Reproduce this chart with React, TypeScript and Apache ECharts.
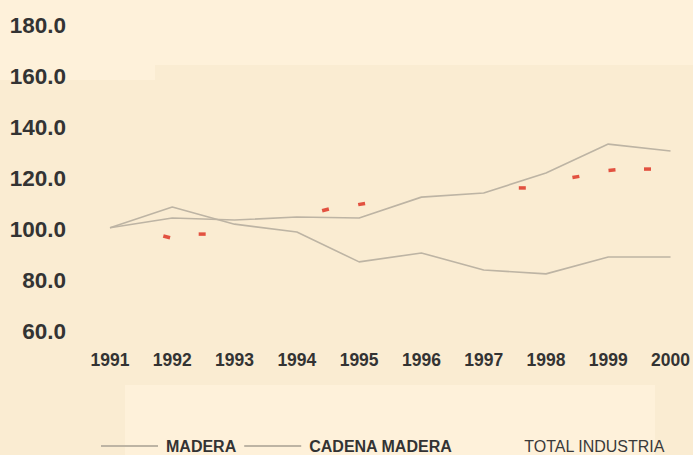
import React, { useEffect, useRef } from "react";
import * as echarts from "echarts";

const years = [1991, 1992, 1993, 1994, 1995, 1996, 1997, 1998, 1999, 2000];
const madera = [100.5, 108.6, 101.9, 98.8, 87.1, 90.6, 83.9, 82.4, 89.0, 89.0];
const cadenaMadera = [100.5, 104.3, 103.5, 104.7, 104.3, 112.5, 114.1, 122.0, 133.3, 130.6];
// visible (faded scan) dashes of the TOTAL INDUSTRIA series: [year position, value]
const industriaX = [1991.91, 1992.48, 1994.46, 1995.04, 1997.62, 1998.48, 1999.06, 1999.63];
const industriaY = [96.9, 98.0, 107.5, 109.8, 116.1, 120.4, 123.1, 123.5];
const industriaRot = [-15, 0, 15, 10, 0, 10, 5, 0];
const yTicks = { min: 60, max: 180, interval: 20 };
const legendNames = ["MADERA", "CADENA MADERA", "TOTAL INDUSTRIA"];

const FONT = "'Liberation Sans', Arial, Helvetica, sans-serif";
const LINE = "#bdb4a4";

export default function App() {
  const ref = useRef<HTMLDivElement>(null);
  useEffect(() => {
    if (!ref.current) return;
    const chart = echarts.init(ref.current, undefined, { renderer: "svg" });
    const tex = "#faecd2";
    chart.setOption({
      animation: false,
      backgroundColor: "#fef1da",
      graphic: {
        elements: [
          { type: "rect", z: -10, silent: true, shape: { x: 155, y: 65, width: 538, height: 320 }, style: { fill: tex } },
          { type: "rect", z: -10, silent: true, shape: { x: 0, y: 80, width: 155, height: 305 }, style: { fill: tex } },
          { type: "rect", z: -10, silent: true, shape: { x: 0, y: 385, width: 125, height: 70 }, style: { fill: tex } },
          { type: "rect", z: -10, silent: true, shape: { x: 655, y: 385, width: 38, height: 70 }, style: { fill: tex } },
        ],
      },
      grid: { left: 110, right: 19, top: 25, bottom: 124 },
      legend: {
        left: 95,
        top: 433,
        itemWidth: 57,
        itemHeight: 12,
        itemGap: 7,
        itemStyle: { opacity: 0 },
        textStyle: { fontFamily: FONT, fontSize: 16, fontWeight: "bold", color: "#333", padding: [0, 0, 0, 3] },
        data: [
          { name: legendNames[0] },
          { name: legendNames[1] },
          {
            name: legendNames[2],
            icon: "rect",
            itemStyle: { opacity: 0 },
            textStyle: { fontWeight: "normal", color: "#3a3a3a" },
          },
        ],
      },
      xAxis: {
        type: "value",
        min: years[0],
        max: years[years.length - 1],
        interval: 1,
        axisLine: { show: false },
        axisTick: { show: false },
        splitLine: { show: false },
        axisLabel: {
          margin: 20,
          fontFamily: FONT,
          fontSize: 17.5,
          fontWeight: "bold",
          color: "#333",
          formatter: (v: number) => String(v),
        },
      },
      yAxis: {
        type: "value",
        min: yTicks.min,
        max: yTicks.max,
        interval: yTicks.interval,
        axisLine: { show: false },
        axisTick: { show: false },
        splitLine: { show: false },
        axisLabel: {
          margin: 44,
          fontFamily: FONT,
          fontSize: 22.5,
          fontWeight: "bold",
          color: "#333",
          formatter: (v: number) => v.toFixed(1),
        },
      },
      series: [
        {
          name: legendNames[0],
          type: "line",
          symbol: "none",
          data: years.map((y, i) => [y, madera[i]]),
          lineStyle: { color: LINE, width: 1.6 },
          itemStyle: { color: LINE },
        },
        {
          name: legendNames[1],
          type: "line",
          symbol: "none",
          data: years.map((y, i) => [y, cadenaMadera[i]]),
          lineStyle: { color: LINE, width: 1.6 },
          itemStyle: { color: LINE },
        },
        {
          name: legendNames[2],
          type: "scatter",
          symbol: "rect",
          symbolSize: [7, 3.5],
          data: industriaX.map((x, i) => ({ value: [x, industriaY[i]], symbolRotate: industriaRot[i] })),
          itemStyle: { color: "#dc2a1c" },
        },
      ],
    });
    return () => chart.dispose();
  }, []);
  return <div ref={ref} style={{ width: 693, height: 455, position: "absolute", left: 0, top: 0 }} />;
}
